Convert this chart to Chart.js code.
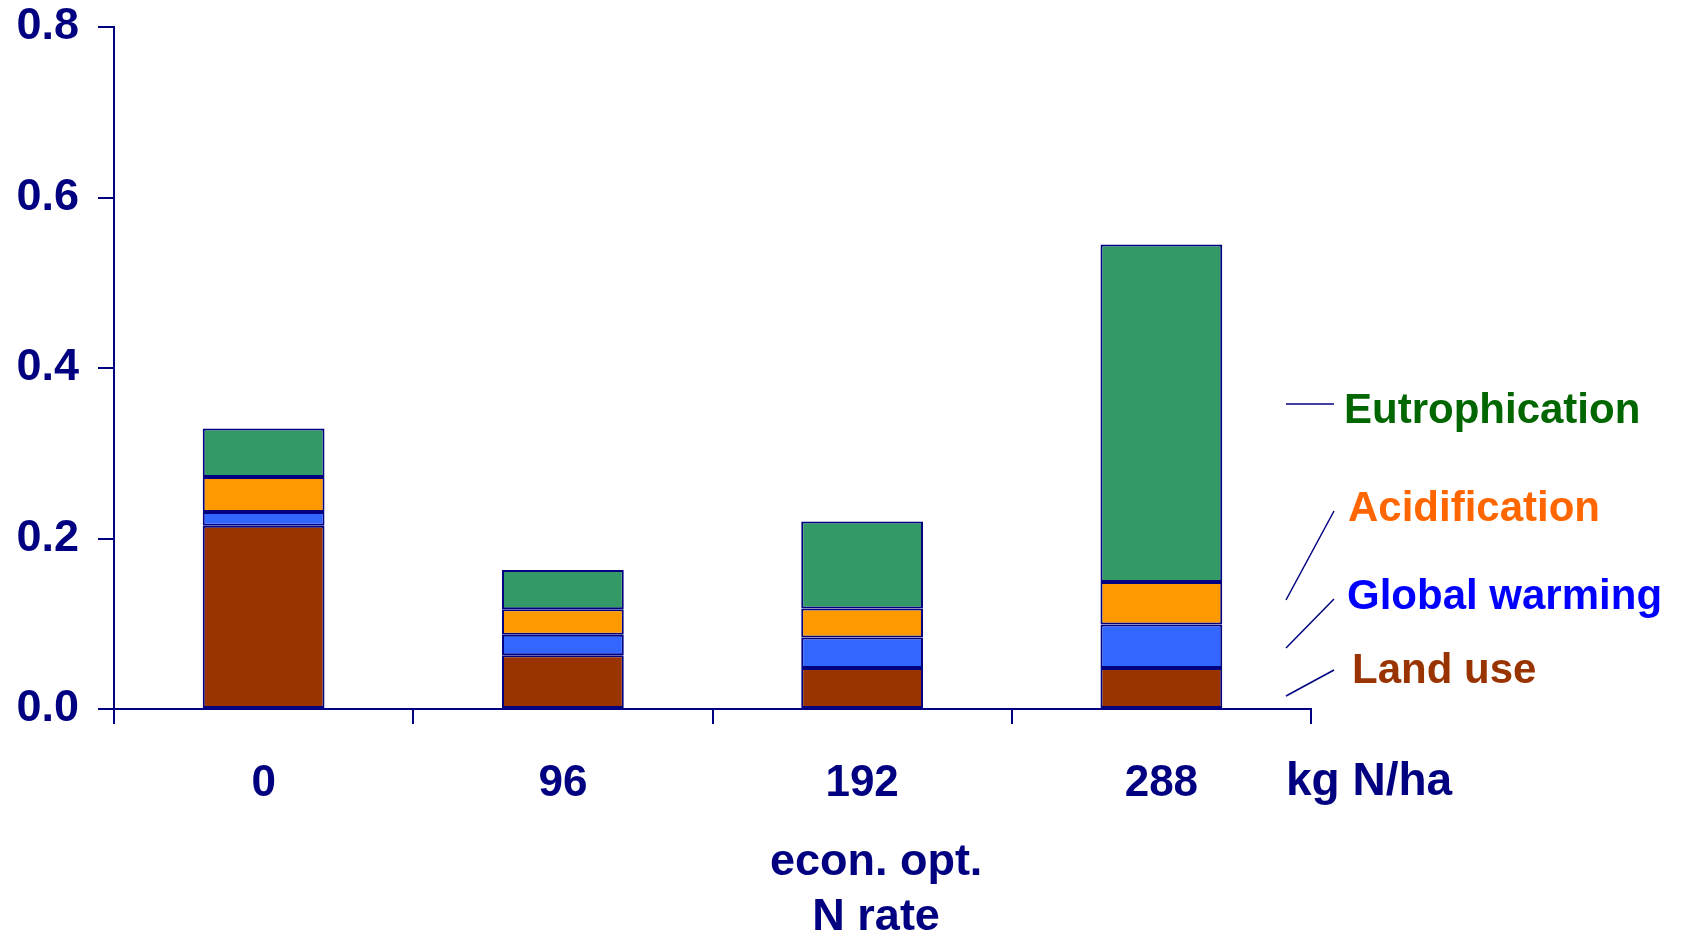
<!DOCTYPE html>
<html>
<head>
<meta charset="utf-8">
<script src="https://cdn.jsdelivr.net/npm/chart.js@4.4.1/dist/chart.umd.min.js"></script>
<style>
  html, body { margin: 0; padding: 0; background: #fff; }
  #wrap { width: 1685px; height: 937px; position: relative; }
</style>
</head>
<body>
<div id="wrap"><canvas id="impactChart"></canvas></div>
<script>
// N rate categories (kg N/ha)
const nRates = ['0', '96', '192', '288'];
const yTicks = [0, 0.2, 0.4, 0.6, 0.8];

// stacked impact components, bottom to top
const landUse       = [0.215, 0.063, 0.048, 0.048];
const globalWarming = [0.016, 0.024, 0.036, 0.051];
const acidification = [0.041, 0.030, 0.034, 0.050];
const eutrophication = [0.057, 0.046, 0.102, 0.396];

const seriesNames  = ['Land use', 'Global warming', 'Acidification', 'Eutrophication'];
const fillColors   = ['#993300', '#3366FF', '#FF9900', '#339966'];
const labelColors  = ['#993300', '#0000FF', '#FF6600', '#006600'];

const NAVY = '#000080';
const FONT = '"Liberation Sans", Arial, Helvetica, sans-serif';

// labels + leader lines on the right, and the x-axis captions
const annotations = {
  id: 'annotations',
  afterDraw(chart) {
    const { ctx, chartArea, scales } = chart;
    const r = chartArea.right, b = chartArea.bottom;
    ctx.save();

    // leader lines: [x1, y1, x2, y2] relative to right edge / bottom
    ctx.strokeStyle = NAVY;
    ctx.lineWidth = 1.5;
    const lines = [
      [-25, -305, 23, -305],  // Eutrophication
      [-25, -109, 23, -198],  // Acidification
      [-25, -61,  23, -110],  // Global warming
      [-25, -13,  23, -39]    // Land use
    ];
    lines.forEach(l => {
      ctx.beginPath();
      ctx.moveTo(r + l[0], b + l[1]);
      ctx.lineTo(r + l[2], b + l[3]);
      ctx.stroke();
    });

    // series names, top to bottom
    ctx.font = 'bold 42px ' + FONT;
    ctx.textAlign = 'left';
    ctx.textBaseline = 'alphabetic';
    const pos = [[41, -26], [36, -100], [37, -188], [33, -286]]; // Land use .. Eutrophication
    seriesNames.forEach((name, i) => {
      ctx.fillStyle = labelColors[i];
      ctx.fillText(name, r + pos[i][0], b + pos[i][1]);
    });

    // axis captions
    ctx.fillStyle = NAVY;
    ctx.font = 'bold 46px ' + FONT;
    ctx.fillText('kg N/ha', r - 25, b + 86);

    ctx.font = 'bold 45px ' + FONT;
    ctx.textAlign = 'center';
    const cx = scales.x.getPixelForValue(2) + 14;
    ctx.fillText('econ. opt.', cx, b + 166);
    ctx.fillText('N rate', cx, b + 221);

    ctx.restore();
  }
};

const datasets = [landUse, globalWarming, acidification, eutrophication].map((data, i) => ({
  label: seriesNames[i],
  data: data,
  backgroundColor: fillColors[i],
  borderColor: NAVY,
  borderWidth: 2,
  borderSkipped: false,
  categoryPercentage: 1.0,
  barPercentage: 0.407
}));

new Chart(document.getElementById('impactChart'), {
  type: 'bar',
  data: { labels: nRates, datasets: datasets },
  plugins: [annotations],
  options: {
    responsive: true,
    maintainAspectRatio: false,
    animation: false,
    layout: { padding: { top: 27, right: 374, left: 0, bottom: 0 } },
    plugins: {
      legend: { display: false },
      tooltip: { enabled: false }
    },
    scales: {
      x: {
        stacked: true,
        offset: true,
        grid: { offset: true, drawOnChartArea: false, tickLength: 15, color: NAVY, lineWidth: 2 },
        border: { color: NAVY, width: 2 },
        ticks: { color: NAVY, padding: 33, font: { family: FONT, size: 44, weight: 'bold' } },
        afterFit: scale => { scale.height = 228; scale.paddingLeft = 0; scale.paddingRight = 0; }
      },
      y: {
        stacked: true,
        min: yTicks[0],
        max: yTicks[yTicks.length - 1],
        afterBuildTicks: scale => { scale.ticks = yTicks.map(v => ({ value: v })); },
        grid: { drawOnChartArea: false, tickLength: 16, color: NAVY, lineWidth: 2 },
        border: { color: NAVY, width: 2 },
        ticks: {
          color: NAVY,
          padding: 19,
          font: { family: FONT, size: 45, weight: 'bold' },
          callback: v => v.toFixed(1)
        },
        afterFit: scale => { scale.width = 114; scale.paddingTop = 0; scale.paddingBottom = 0; }
      }
    }
  }
});
</script>
</body>
</html>
